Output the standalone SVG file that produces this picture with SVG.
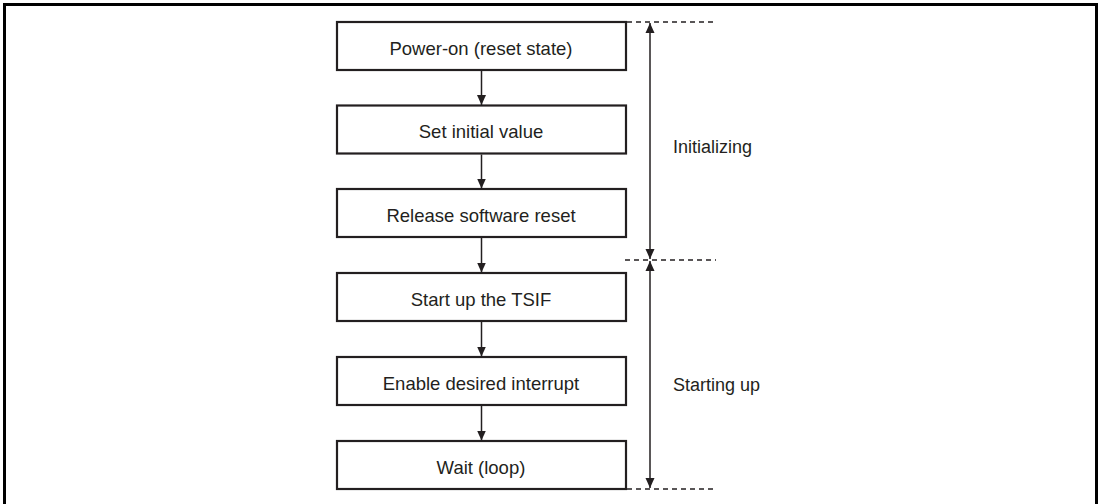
<svg xmlns="http://www.w3.org/2000/svg" width="1101" height="504" viewBox="0 0 1101 504">
<style>
.box{fill:#fff;stroke:#231f20;stroke-width:2.2}
.t{font-family:"Liberation Sans",Arial,sans-serif;font-size:18.5px;fill:#231f20;text-anchor:middle}
.lbl{font-family:"Liberation Sans",Arial,sans-serif;font-size:18px;fill:#231f20}
.ln{stroke:#231f20;stroke-width:1.5;fill:none}
.dash{stroke:#231f20;stroke-width:1.3;stroke-dasharray:5 4;fill:none}
</style>
<defs>
<marker id="ah" viewBox="0 0 10 12" refX="10" refY="6" markerWidth="10" markerHeight="12" markerUnits="userSpaceOnUse" orient="auto">
<path d="M0,1.5 L10,6 L0,10.5 Z" fill="#231f20"/>
</marker>
<marker id="ahs" viewBox="0 0 10 12" refX="0" refY="6" markerWidth="10" markerHeight="12" markerUnits="userSpaceOnUse" orient="auto">
<path d="M10,1.5 L0,6 L10,10.5 Z" fill="#231f20"/>
</marker>
</defs>
<path d="M4.5,510 V4.5 H1096.5 V510" fill="none" stroke="#000" stroke-width="3"/>
<g id="n1"><rect class="box" x="337" y="22" width="289" height="48"/><text class="t" x="481" y="54.5">Power-on (reset state)</text></g>
<g id="n2"><rect class="box" x="337" y="105.5" width="289" height="48"/><text class="t" x="481" y="138">Set initial value</text></g>
<g id="n3"><rect class="box" x="337" y="189" width="289" height="48"/><text class="t" x="481" y="221.5">Release software reset</text></g>
<g id="n4"><rect class="box" x="337" y="273" width="289" height="48"/><text class="t" x="481" y="305.5">Start up the TSIF</text></g>
<g id="n5"><rect class="box" x="337" y="357" width="289" height="48"/><text class="t" x="481" y="389.5">Enable desired interrupt</text></g>
<g id="n6"><rect class="box" x="337" y="441" width="289" height="48"/><text class="t" x="481" y="473.5">Wait (loop)</text></g>
<g id="connectors">
<line class="ln" x1="481.5" y1="71" x2="481.5" y2="105" marker-end="url(#ah)"/>
<line class="ln" x1="481.5" y1="154.5" x2="481.5" y2="188.5" marker-end="url(#ah)"/>
<line class="ln" x1="481.5" y1="238" x2="481.5" y2="272.5" marker-end="url(#ah)"/>
<line class="ln" x1="481.5" y1="322" x2="481.5" y2="356.5" marker-end="url(#ah)"/>
<line class="ln" x1="481.5" y1="406" x2="481.5" y2="440.5" marker-end="url(#ah)"/>
<line class="ln" x1="650" y1="23" x2="650" y2="259" marker-start="url(#ahs)" marker-end="url(#ah)"/>
<line class="ln" x1="650" y1="261" x2="650" y2="488" marker-start="url(#ahs)" marker-end="url(#ah)"/>
<line class="dash" x1="627" y1="22" x2="716" y2="22"/>
<line class="dash" x1="625" y1="260" x2="716" y2="260"/>
<line class="dash" x1="627" y1="489" x2="716" y2="489"/>
</g>
<g id="labels">
<text class="lbl" x="673" y="153">Initializing</text>
<text class="lbl" x="673" y="391">Starting up</text>
</g>
</svg>
